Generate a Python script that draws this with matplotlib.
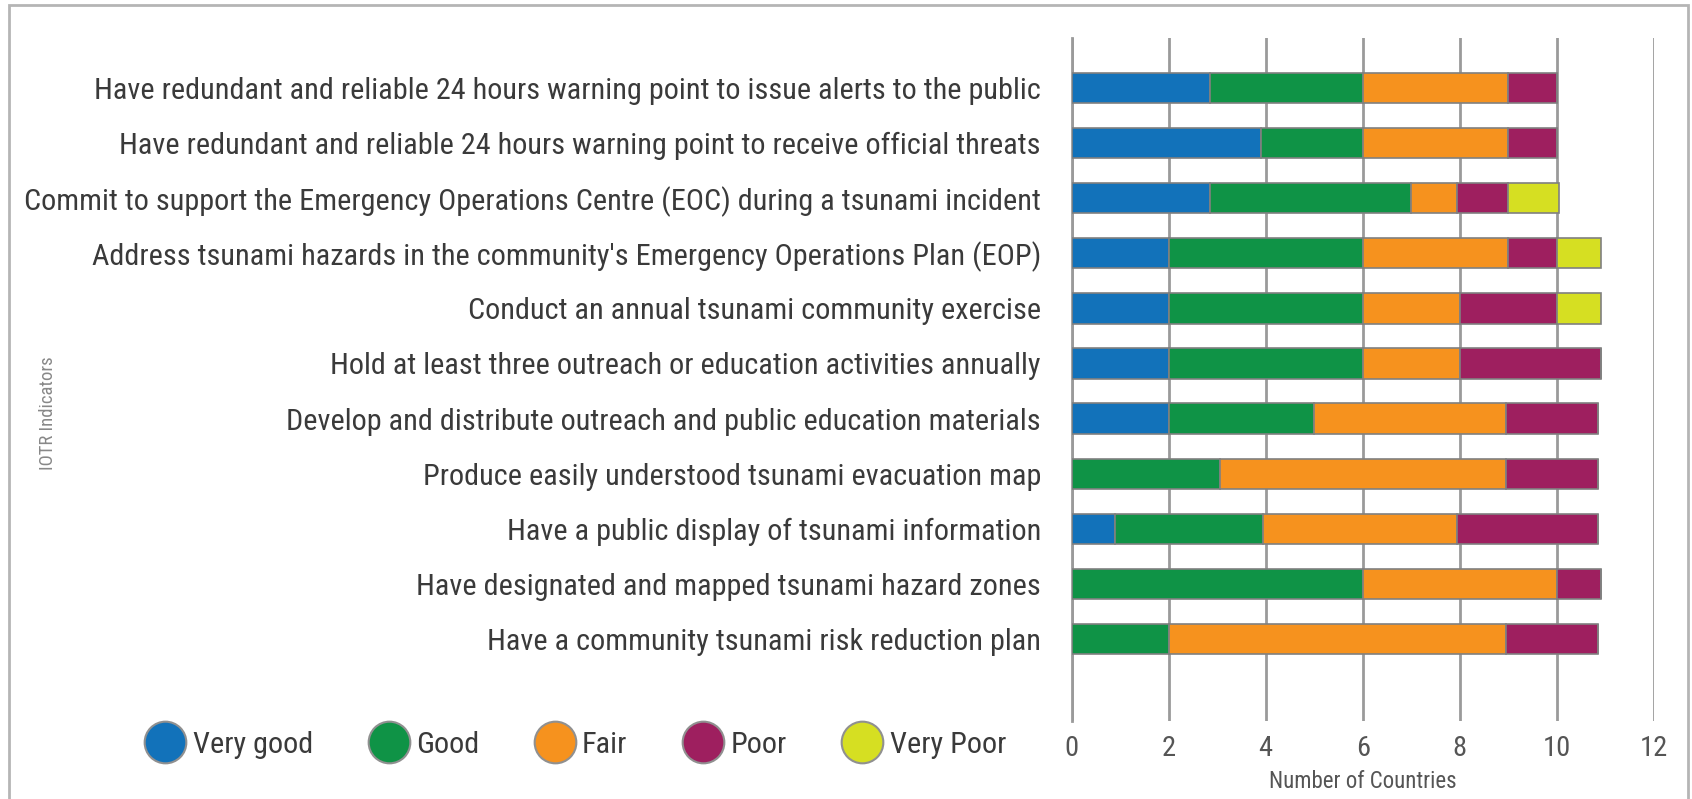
import matplotlib
matplotlib.use("Agg")
import matplotlib.pyplot as plt
import matplotlib.font_manager as fm
from matplotlib.lines import Line2D
from matplotlib.patches import Rectangle
import numpy as np

names = {f.name for f in fm.fontManager.ttflist}
FAM = next((n for n in ["Roboto Condensed", "Liberation Sans Narrow", "Open Sans Condensed", "Roboto", "DejaVu Sans"] if n in names), "DejaVu Sans")
plt.rcParams["font.family"] = [FAM, "DejaVu Sans"]

indicators = [
    "Have redundant and reliable 24 hours warning point to issue alerts to the public",
    "Have redundant and reliable 24 hours warning point to receive official threats",
    "Commit to support the Emergency Operations Centre (EOC) during a tsunami incident",
    "Address tsunami hazards in the community's Emergency Operations Plan (EOP)",
    "Conduct an annual tsunami community exercise",
    "Hold at least three outreach or education activities annually",
    "Develop and distribute outreach and public education materials",
    "Produce easily understood tsunami evacuation map",
    "Have a public display of tsunami information",
    "Have designated and mapped tsunami hazard zones",
    "Have a community tsunami risk reduction plan",
]
levels = ["Very good", "Good", "Fair", "Poor", "Very Poor"]
very_good = [2.85, 3.9, 2.85, 2.0, 2.0, 2.0, 2.0, 0.0, 0.9, 0.0, 0.0]
good      = [3.15, 2.1, 4.15, 4.0, 4.0, 4.0, 3.0, 3.05, 3.05, 6.0, 2.0]
fair      = [3.0, 3.0, 0.95, 3.0, 2.0, 2.0, 3.95, 5.9, 4.0, 4.0, 6.95]
poor      = [1.0, 1.0, 1.05, 1.0, 2.0, 2.9, 1.9, 1.9, 2.9, 0.9, 1.9]
very_poor = [0.0, 0.0, 1.05, 0.9, 0.9, 0.0, 0.0, 0.0, 0.0, 0.0, 0.0]
colors = ["#1272BA", "#0F9346", "#F6921E", "#9E1F5F", "#D6DF22"]

fig = plt.figure(figsize=(16.92, 7.99), dpi=100)
ax = fig.add_axes([0.6333, 0.0976, 0.3443, 0.8548])

y = np.arange(len(indicators))
left = np.zeros(len(indicators))
for vals, col in zip([very_good, good, fair, poor, very_poor], colors):
    v = np.array(vals)
    ax.barh(y, v, left=left, height=0.55, color=col, edgecolor="#808080", linewidth=1.2, zorder=3)
    left += v

ax.set_xlim(0, 12)
ax.set_ylim(11.49, -0.907)
ax.set_xticks(np.arange(0, 13, 2))
ax.set_yticks(y)
ax.set_yticklabels(indicators, fontsize=21.8, color="#3a3a3a")
ax.tick_params(axis="y", length=0, pad=22)
ax.tick_params(axis="x", length=0, pad=10, labelsize=20.5, labelcolor="#555555")
ax.grid(axis="x", color="#9a9a9a", linewidth=2)
ax.grid(axis="y", visible=False)
ax.set_axisbelow(True)
for s in ["top", "right", "bottom"]:
    ax.spines[s].set_visible(False)
ax.spines["left"].set_color("#9a9a9a")
ax.spines["left"].set_linewidth(2)
ax.set_xlabel("Number of Countries", fontsize=16.5, color="#555555", labelpad=6)

fig.text(48 / 1692, 1 - 413 / 799, "IOTR Indicators", rotation=90, fontsize=13.5,
         color="#888888", ha="center", va="center")

handles = [Line2D([], [], linestyle="none", marker="o", markersize=30, markerfacecolor=c,
                  markeredgecolor="#909090", markeredgewidth=1.5) for c in colors]
fig.legend(handles, levels, loc="center left", bbox_to_anchor=(120 / 1692, 1 - 745 / 799),
           ncol=5, frameon=False, fontsize=21.8, handletextpad=0.3, columnspacing=1.9,
           labelcolor="#3a3a3a", handlelength=1.2)

fig.patches.append(Rectangle((9 / 1692, -0.05), (1688 - 9) / 1692, 1.05 - 5 / 799,
                             transform=fig.transFigure, fill=False, edgecolor="#b5b5b5",
                             linewidth=2))

fig.savefig("out.png", dpi=100)
